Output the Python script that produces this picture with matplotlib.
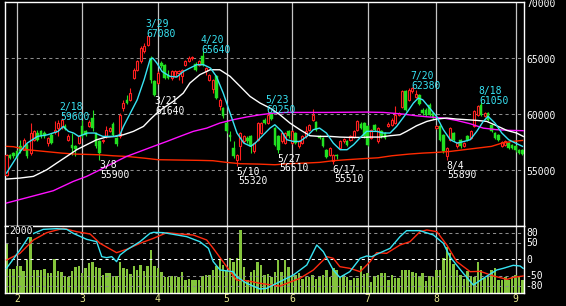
import matplotlib
matplotlib.use('Agg')
import matplotlib.pyplot as plt
from matplotlib.patches import Rectangle

# ---------------- data (day index 0..150) ----------------
opens = [
54580,56360,56510,56660,57110,56810,57260,56510,57700,58300,
58450,58300,57400,58150,58360,58740,58800,58950,57700,57260,
57110,57400,58890,58450,58950,59640,58300,57550,57550,58000,
58450,59130,57850,58000,60530,61270,61270,63210,63950,64700,
65590,66190,65000,62910,62760,64550,64400,63510,63210,63420,
63660,63360,64400,64700,64970,64490,64400,65140,63800,63060,
62230,63360,60680,60530,59190,58150,56960,55920,57110,57550,
57850,58000,56660,57700,58300,59490,59190,60080,58740,58000,
57550,57400,58450,57400,58300,57110,57400,58000,58600,59490,
59250,58000,57850,56810,56360,55770,56360,56960,57550,57550,
57700,57940,58540,59130,59190,58890,57850,59040,57550,58450,
58300,58890,59040,59190,59930,60620,62020,61270,62020,61510,
61660,60380,60380,60830,60080,58740,58950,58150,56210,57700,
58300,57110,57700,57170,58000,57850,58890,59930,60830,59790,
60080,59040,58300,58150,57170,57260,57400,57260,57110,56810,
56750]
closes = [
56360,56060,56210,56150,56660,57700,56210,58300,58450,57700,
58000,58000,57850,57400,58600,59190,59450,58650,58060,56960,
56870,58000,58000,58150,59250,58740,57110,56510,57700,58600,
58740,58150,57350,59930,60980,60980,61870,63950,64700,65890,
66040,66990,63060,61720,63660,64250,63210,63210,63800,63800,
63800,63950,64700,65000,65090,63890,64700,64400,64100,63510,
63060,61420,61270,59790,58450,57940,56210,56360,58300,58000,
57550,57110,57400,59190,59190,59190,59930,59580,57260,56750,
58300,58300,58000,58450,57400,57550,58000,58450,59040,59930,
58600,57850,57170,56150,56960,56360,56210,57550,57760,57200,
58000,58450,59340,58740,58000,57260,58600,58600,58740,58000,
57850,59130,59490,59930,60080,62020,60380,62170,62320,61810,
60920,60080,59930,59930,59640,58950,57700,56660,56960,58740,
57700,57400,57110,57400,57700,58450,60230,60680,59930,60080,
59430,58450,57850,57700,57460,57550,56960,56960,56750,56510,
56450]
highs = [
56450,56450,56600,56750,57700,57850,57400,59190,58600,58600,
58600,58450,57950,58300,59340,59490,59600,59100,58200,58300,
57200,58100,59500,58550,59490,60380,58400,57650,57800,58890,
58850,59250,57950,60050,61270,61720,62320,64100,64850,66040,
66340,67080,65140,63000,63800,64700,64500,63890,63950,63900,
63950,64050,64850,65140,65200,64600,64850,65640,64200,63600,
63150,63450,61400,60650,59300,58450,57550,56450,58400,58150,
58000,58100,57500,59300,59300,59640,60250,60200,58850,58100,
58400,58400,58550,58550,58400,57650,58100,58950,59150,60440,
59350,58100,57950,56900,57050,56450,56450,57650,57850,57650,
58100,58600,59450,59250,59300,59000,58700,59150,58850,58550,
58400,59250,59640,60680,60200,62110,62110,62300,62380,62170,
61750,60530,60500,60950,60200,59050,59050,58250,57050,58850,
58400,57500,57800,57500,58100,58550,60350,60800,61050,60200,
60200,59150,58400,58250,57550,57650,57500,57350,57200,56900,
56850]
lows = [
54490,55970,56100,56060,56510,56750,56100,56360,57600,57600,
57900,57900,57110,57300,58250,58000,58700,58550,57600,56360,
56210,57300,57900,58050,58850,58450,57000,55900,57450,57900,
58350,58050,57110,57900,60230,60880,61150,63100,63850,64550,
65450,66050,62760,61640,62650,64150,63100,63100,63060,63300,
63060,62760,64300,64600,64850,63800,64300,64300,63500,62910,
61870,61300,60380,59640,58300,57550,56100,55320,55920,57450,
57400,56510,56550,57600,58200,59100,59100,59450,57150,56510,
57450,57300,57900,57300,57300,57000,57300,57900,58500,59400,
58500,57750,57050,56050,56250,55510,55980,56850,57450,57100,
57600,57850,58450,58650,57900,57150,57750,58500,57450,57900,
57750,58800,58950,59100,59850,60500,60280,61150,61900,61400,
60800,59930,59850,59850,59550,58650,57600,56550,55890,57600,
57600,57000,57000,57050,57600,57750,58800,59850,59850,59700,
59350,58350,57750,57600,57050,57150,56850,56850,56650,56400,
56350]
volume = [
1500,730,730,820,820,650,1000,1750,700,680,
680,720,600,600,1020,670,620,500,480,670,
780,820,600,740,900,920,780,750,550,600,
600,480,520,940,750,730,580,820,700,850,
650,820,1300,820,750,620,480,480,520,500,
480,620,400,430,400,380,380,520,540,550,
680,800,980,850,650,1050,920,1050,1900,780,
380,620,700,920,850,550,580,480,620,980,
620,980,770,500,550,600,420,480,480,550,
420,480,550,680,480,750,680,480,550,480,
400,450,450,820,580,600,320,520,550,600,
600,400,550,450,450,700,700,680,620,600,
480,600,350,520,480,680,680,1050,1380,1200,
880,700,550,420,650,520,480,920,680,450,
480,700,750,380,380,480,380,480,550,520,
400]

# moving averages (day index, price)
ma_short_idx = [0,4,6,9,12,15,16.5,18,19.5,21,23.5,25.7,28,31.5,33,34,36,38,40,41.7,
                42.5,43.7,45.2,47.5,49.5,51.4,53.3,55.3,57.3,59.3,61,63,65,67,69,71,72.3,74.7,76.6,78,
                80,81.5,83.4,85.3,87.3,89.2,91,93,95,97,99,100.9,102.7,104.7,107.6,109.6,111.5,113.4,116.3,118.3,
                119.7,121,123,125,127,129,131,133,134.8,136.7,138.6,140,142,144,146,148,150]
ma_short = [54730,56660,57400,58000,58150,58450,58890,58450,58300,58000,58300,58300,58000,58000,58150,58890,60080,61270,63060,64850,
            65000,64550,63800,63360,63300,63800,64100,64400,64400,64100,63360,61870,60080,58300,57400,57110,57400,58150,58740,59040,
            58450,57700,57550,57550,58000,58600,58740,58300,57400,56810,56810,57260,57850,58450,58450,58300,58300,58890,60080,60980,
            61420,61270,60530,59790,58600,57700,57400,57550,57700,58450,59340,59790,59190,58300,57700,57400,57110]
ma_mid_idx = [0,3.9,7.8,11.7,14.6,17.5,20.4,23.3,26.2,29,31.5,34,36.9,39.8,41.7,43.7,45.6,48.5,51.4,53.3,
              56.2,59.2,62,65,67.9,70.8,73.7,76.6,79.5,82.4,85.3,88.2,91,94,96.9,99.9,102.7,105.7,108.6,111.5,
              114.4,116.3,119.2,122.2,125,128,130.8,133.8,136.7,139.6,142.5,145.4,148.3,150.2]
ma_mid = [54190,54280,54430,55020,55620,56210,56810,57260,57700,57940,58000,58150,58450,58890,59490,60080,60530,61130,61870,62760,
          63510,63950,63950,63360,62470,61570,60980,60530,59930,59190,58600,58060,58000,58000,57940,57910,57910,57940,57940,58060,
          58150,58450,58950,59340,59550,59640,59550,59490,59430,59340,58950,58540,58300,58000]
ma_long_idx = [0,13.6,19.4,23.3,27.2,31,34.9,38.8,42.7,46.6,50.4,54.3,58.2,62,65.9,69.8,73.7,77.6,81.4,93,
               104.7,109.6,115.4,119.2,123,127,130.8,134.8,138.6,142.5,146.2,150.2]
ma_long = [52050,53150,53980,54430,55020,55620,56210,56660,57110,57550,58000,58450,58740,59190,59490,59730,59930,60080,60140,60140,
           60170,60140,59990,59840,59730,59640,59430,59130,58740,58600,58540,58510]
ma_vlong_idx = [0,2,6,11,16,20,27,31,35,40,44,50,56,60,64,68,73,78,82,87,
                91,95,99,103,108,112,117,121,125,129,133,137,141,144,147,150]
ma_vlong = [57110,57080,56810,56660,56510,56420,56360,56270,56210,56060,55920,55890,55860,55830,55680,55560,55530,55470,55560,55620,
            55680,55830,55920,56000,56090,56270,56420,56510,56570,56660,56810,56960,57110,57400,57550,57640]

# oscillators in lower panel
osc1_idx = [0,3.9,6.8,10.7,14.6,17.5,19.4,23.3,26.2,27.7,29.1,30.6,32,33,34.9,38.8,41.7,42.7,45.6,48.5,
            52.4,56.2,58.7,60.1,62.1,65.9,66.9,69.8,73.7,75.6,78.5,79.5,83.4,87.3,90.2,92.1,95,96.9,99.8,102.8,
            104.7,106.2,107.6,111.5,114.4,116.3,120.2,124.1,127,128.9,132.8,135.7,138.6,142.5,144.4,147.3,149.3,150.2]
osc1 = [-27,28,73,90,92,90,78,60,53,8,5,8,-7,13,28,53,78,81,80,75,
        68,53,33,-7,-32,-37,-52,-72,-89,-87,-72,-67,-47,-17,43,23,-32,-54,-37,3,
        10,8,15,33,68,86,86,73,48,8,-42,-77,-57,-32,-27,-18,-20,-27]
osc2_idx = [0,3.9,7.8,11.7,16.5,20.4,24.3,27.2,32,34.9,38.8,42.7,46.6,50.4,54.3,58.2,60.1,64,66.9,69.8,
            73.7,78.5,79.5,85.3,89.2,93.1,95,96.9,99.8,102.8,105.7,107.6,110.5,114.4,117.3,120.2,122.2,125.1,128,130.9,
            134.8,137.7,141.6,145.5,147.4,150.2]
osc2 = [-2,18,58,80,93,83,76,48,20,30,48,63,80,76,73,58,33,-22,-62,-64,
        -72,-79,-80,-57,-32,8,3,-22,-27,-37,-7,20,18,43,53,83,88,83,43,-7,
        -37,-36,-50,-60,-54,-50]

peak_idx = [16, 41, 57, 76, 118, 138]
peak_dates = ['2/18', '3/29', '4/20', '5/23', '7/20', '8/18']
trough_idx = [27, 43, 67, 79, 95, 128]
trough_dates = ['3/8', '3/21', '5/10', '5/27', '6/17', '8/4']

month_start_idx = [3, 22, 44, 64, 83, 105, 125, 148]
month_labels = ['2', '3', '4', '5', '6', '7', '8', '9']

price_ticks = [70000, 65000, 60000, 55000]
osc_ticks = [80, 50, 0, -50, -80]

# ---------------- style ----------------
BG = 'black'
RED = '#ff2020'
GREEN = '#22e022'
CYAN = '#38e4f4'
MAG = '#ff10ff'
WHITE = 'white'
VOLC = '#84c43c'
GRID = '#8c8c8c'
VGRID = '#c4c4c4'
YEL = '#eaea90'
MONO = 'DejaVu Sans Mono'
FS = 7.0
PX = 0.72  # points per pixel

W, H = 566, 306
L, R = 5, 524
TOP, MID, BOT = 2, 226, 293
n = len(closes)
XL = (-0.44, 150.44)

fig = plt.figure(figsize=(W / 100, H / 100), dpi=100, facecolor=BG)
ax = fig.add_axes([L / W, 1 - MID / H, (R - L) / W, (MID - TOP) / H])
vol = fig.add_axes([L / W, 1 - BOT / H, (R - L) / W, (BOT - MID) / H])
sub = fig.add_axes([L / W, 1 - BOT / H, (R - L) / W, (BOT - MID) / H])

for a in (ax, vol, sub):
    a.set_xlim(*XL)
    a.set_xticks([])
    a.set_yticks([])
ax.set_facecolor(BG)
vol.set_facecolor(BG)
sub.set_facecolor('none')
for a in (ax, sub):
    for s in a.spines.values():
        s.set_color(WHITE)
        s.set_linewidth(1.0)
for s in vol.spines.values():
    s.set_visible(False)

ax.set_ylim(50000, 70000)
sub.set_ylim(-101, 100)
vol.set_ylim(0, 2020)

# grids
for a in (ax, vol):
    for m in month_start_idx:
        a.axvline(m, color=VGRID, lw=0.9, zorder=1)
for p in price_ticks[1:]:
    ax.axhline(p, color=GRID, lw=0.75, ls=(0, (3, 3)), zorder=1)
for t in osc_ticks:
    sub.axhline(t, color=(WHITE if t == 0 else GRID), lw=0.75, ls=(0, (3, 3)), zorder=2)

# candles
for i in range(n):
    o, h, l, c = opens[i], highs[i], lows[i], closes[i]
    up = c >= o
    col = RED if up else GREEN
    ax.vlines(i, l, h, color=col, lw=0.8, zorder=3)
    lo, hi = min(o, c), max(o, c)
    if up:
        ax.add_patch(Rectangle((i - 0.3, lo), 0.6, max(hi - lo, 40), facecolor=BG,
                               edgecolor=RED, lw=0.8, zorder=4))
    else:
        ax.add_patch(Rectangle((i - 0.37, lo), 0.74, max(hi - lo, 40), facecolor=GREEN,
                               edgecolor=GREEN, lw=0.3, zorder=4))

# moving averages
ax.plot(ma_vlong_idx, ma_vlong, color='#ff2a00', lw=1.0, zorder=5)
ax.plot(ma_long_idx, ma_long, color=MAG, lw=1.0, zorder=5)
ax.plot(ma_mid_idx, ma_mid, color=WHITE, lw=1.0, zorder=5)
ax.plot(ma_short_idx, ma_short, color=CYAN, lw=1.0, zorder=5)

# peak / trough labels
for i, d in zip(peak_idx, peak_dates):
    ax.annotate(d, (i, highs[i]), xytext=(-2.5 * PX, 11.0 * PX), textcoords='offset points',
                ha='left', va='center', color=CYAN, fontsize=FS, family=MONO, zorder=6)
    ax.annotate(str(highs[i]), (i, highs[i]), xytext=(-1.5 * PX, 1.0 * PX), textcoords='offset points',
                ha='left', va='center', color=CYAN, fontsize=FS, family=MONO, zorder=6)
for i, d in zip(trough_idx, trough_dates):
    ax.annotate(d, (i, lows[i]), xytext=(-0.5 * PX, -5.5 * PX), textcoords='offset points',
                ha='left', va='center', color=WHITE, fontsize=FS, family=MONO, zorder=6)
    ax.annotate(str(lows[i]), (i, lows[i]), xytext=(1.0 * PX, -15 * PX), textcoords='offset points',
                ha='left', va='center', color=WHITE, fontsize=FS, family=MONO, zorder=6)

# right price labels
for p in price_ticks:
    ax.annotate(str(p), (1, p), xycoords=('axes fraction', 'data'), xytext=(2.2 * PX, -2.0 * PX),
                textcoords='offset points', ha='left', va='center', color=WHITE,
                fontsize=FS, family=MONO, annotation_clip=False)

# volume
vol.bar(range(n), volume, width=0.72, color=VOLC, zorder=2)

# oscillators
sub.plot(osc2_idx, osc2, color='#ff2a10', lw=1.0, zorder=4)
sub.plot(osc1_idx, osc1, color=CYAN, lw=1.0, zorder=4)
for t in osc_ticks:
    sub.annotate(str(t), (1, t), xycoords=('axes fraction', 'data'),
                 xytext=((1.0 if t < 0 else 2.2) * PX, -0.3 * PX), textcoords='offset points',
                 ha='left', va='center', color=WHITE, fontsize=FS, family=MONO,
                 annotation_clip=False)
sub.text(4 / (R - L), (BOT - 231.5) / (BOT - MID), '2000', transform=sub.transAxes,
         ha='left', va='center', color=WHITE, fontsize=FS, family=MONO, zorder=6,
         bbox=dict(facecolor=BG, edgecolor='none', pad=0.3))

# month labels
for m, lab in zip(month_start_idx, month_labels):
    sub.annotate(lab, (m, 0), xycoords=('data', 'axes fraction'), xytext=(0, -6 * PX),
                 textcoords='offset points', ha='center', va='center', color=YEL,
                 fontsize=FS, family=MONO, annotation_clip=False)

fig.savefig('out.png', dpi=100, facecolor=BG)
